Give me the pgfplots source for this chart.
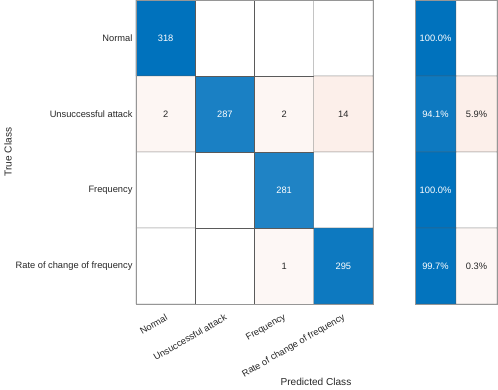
\documentclass[border=0pt]{standalone}
\usepackage{fontspec}
\setmainfont{Liberation Sans}
\usepackage{pgfplots}
\usepackage{pgfplotstable}
\pgfplotsset{compat=1.18}

\definecolor{tickgray}{RGB}{38,38,38}
\definecolor{edgegray}{RGB}{90,90,90}
\definecolor{framegray}{RGB}{150,150,150}

% cell shading: negative = off-diagonal (red side), positive = diagonal (blue side)
\pgfplotstableread{
x y c
0 0 1.00
1 0 0
2 0 0
3 0 0
0 1 -0.05
1 1 0.90
2 1 -0.05
3 1 -0.09
0 2 0
1 2 0
2 2 0.88
3 2 0
0 3 0
1 3 0
2 3 -0.045
3 3 0.95
}\cells

\pgfplotstableread{
x y l
0 0 318
1 1 287
2 2 281
3 3 295
}\diaglabels

\pgfplotstableread{
x y l
0 1 2
2 1 2
3 1 14
2 3 1
}\offlabels

% row summary
\pgfplotstableread{
x y c
0 0 1.00
1 0 0
0 1 0.95
1 1 -0.09
0 2 1.00
1 2 0
0 3 0.99
1 3 -0.045
}\rowsum

\pgfplotstableread{
x y l
0 0 100.0\%
0 1 94.1\%
0 2 100.0\%
0 3 99.7\%
}\rowsumblue

\pgfplotstableread{
x y l
1 1 5.9\%
1 3 0.3\%
}\rowsumpale

\pgfplotsset{
  colormap={conf}{rgb255=(217,83,25) rgb255=(255,255,255) rgb255=(0,114,189)},
  cm/.style={
    scale only axis, height=304pt,
    y dir=reverse, ymin=-0.5, ymax=3.5,
    axis on top,
    axis line style={framegray},
    major tick length=0pt,
    colormap name=conf,
    point meta min=-1, point meta max=1,
    tick label style={font=\fontsize{9.3}{11}\selectfont, text=tickgray},
  },
  cells/.style={matrix plot, shader=faceted, faceted color=edgegray, draw=edgegray, point meta=explicit},
  celltext/.style={only marks, mark=none, nodes near coords, point meta=explicit symbolic,
    nodes near coords style={anchor=center, font=\fontsize{9.3}{11}\selectfont, text=#1}},
}

\begin{document}
\begin{tikzpicture}
\useasboundingbox (-136pt,0pt) rectangle (362pt,-390pt);

\begin{axis}[cm,
  at={(0pt,0pt)}, anchor=north west,
  width=237pt,
  xmin=-0.5, xmax=3.5,
  xtick={0,1,2,3}, ytick={0,1,2,3},
  xticklabels={Normal,Unsuccessful attack,Frequency,Rate of change of frequency},
  yticklabels={Normal,Unsuccessful attack,Frequency,Rate of change of frequency},
  xticklabel style={xshift=4pt, yshift=-11pt, rotate=30, anchor=east},
]
\addplot[cells, mesh/cols=4] table[meta=c] {\cells};
\addplot[celltext=white] table[meta=l] {\diaglabels};
\addplot[celltext=tickgray] table[meta=l] {\offlabels};
\end{axis}

\begin{axis}[cm,
  at={(279pt,0pt)}, anchor=north west,
  width=82pt,
  xmin=-0.5, xmax=1.5,
  xtick=\empty, ytick=\empty,
]
\addplot[cells, mesh/cols=2] table[meta=c] {\rowsum};
\addplot[celltext=white] table[meta=l] {\rowsumblue};
\addplot[celltext=tickgray] table[meta=l] {\rowsumpale};
\end{axis}

\node[font=\fontsize{10.1}{12}\selectfont, text=tickgray] at (180pt,-382pt) {Predicted Class};
\node[font=\fontsize{10.1}{12}\selectfont, text=tickgray, rotate=90] at (-128pt,-152pt) {True Class};
\end{tikzpicture}
\end{document}
